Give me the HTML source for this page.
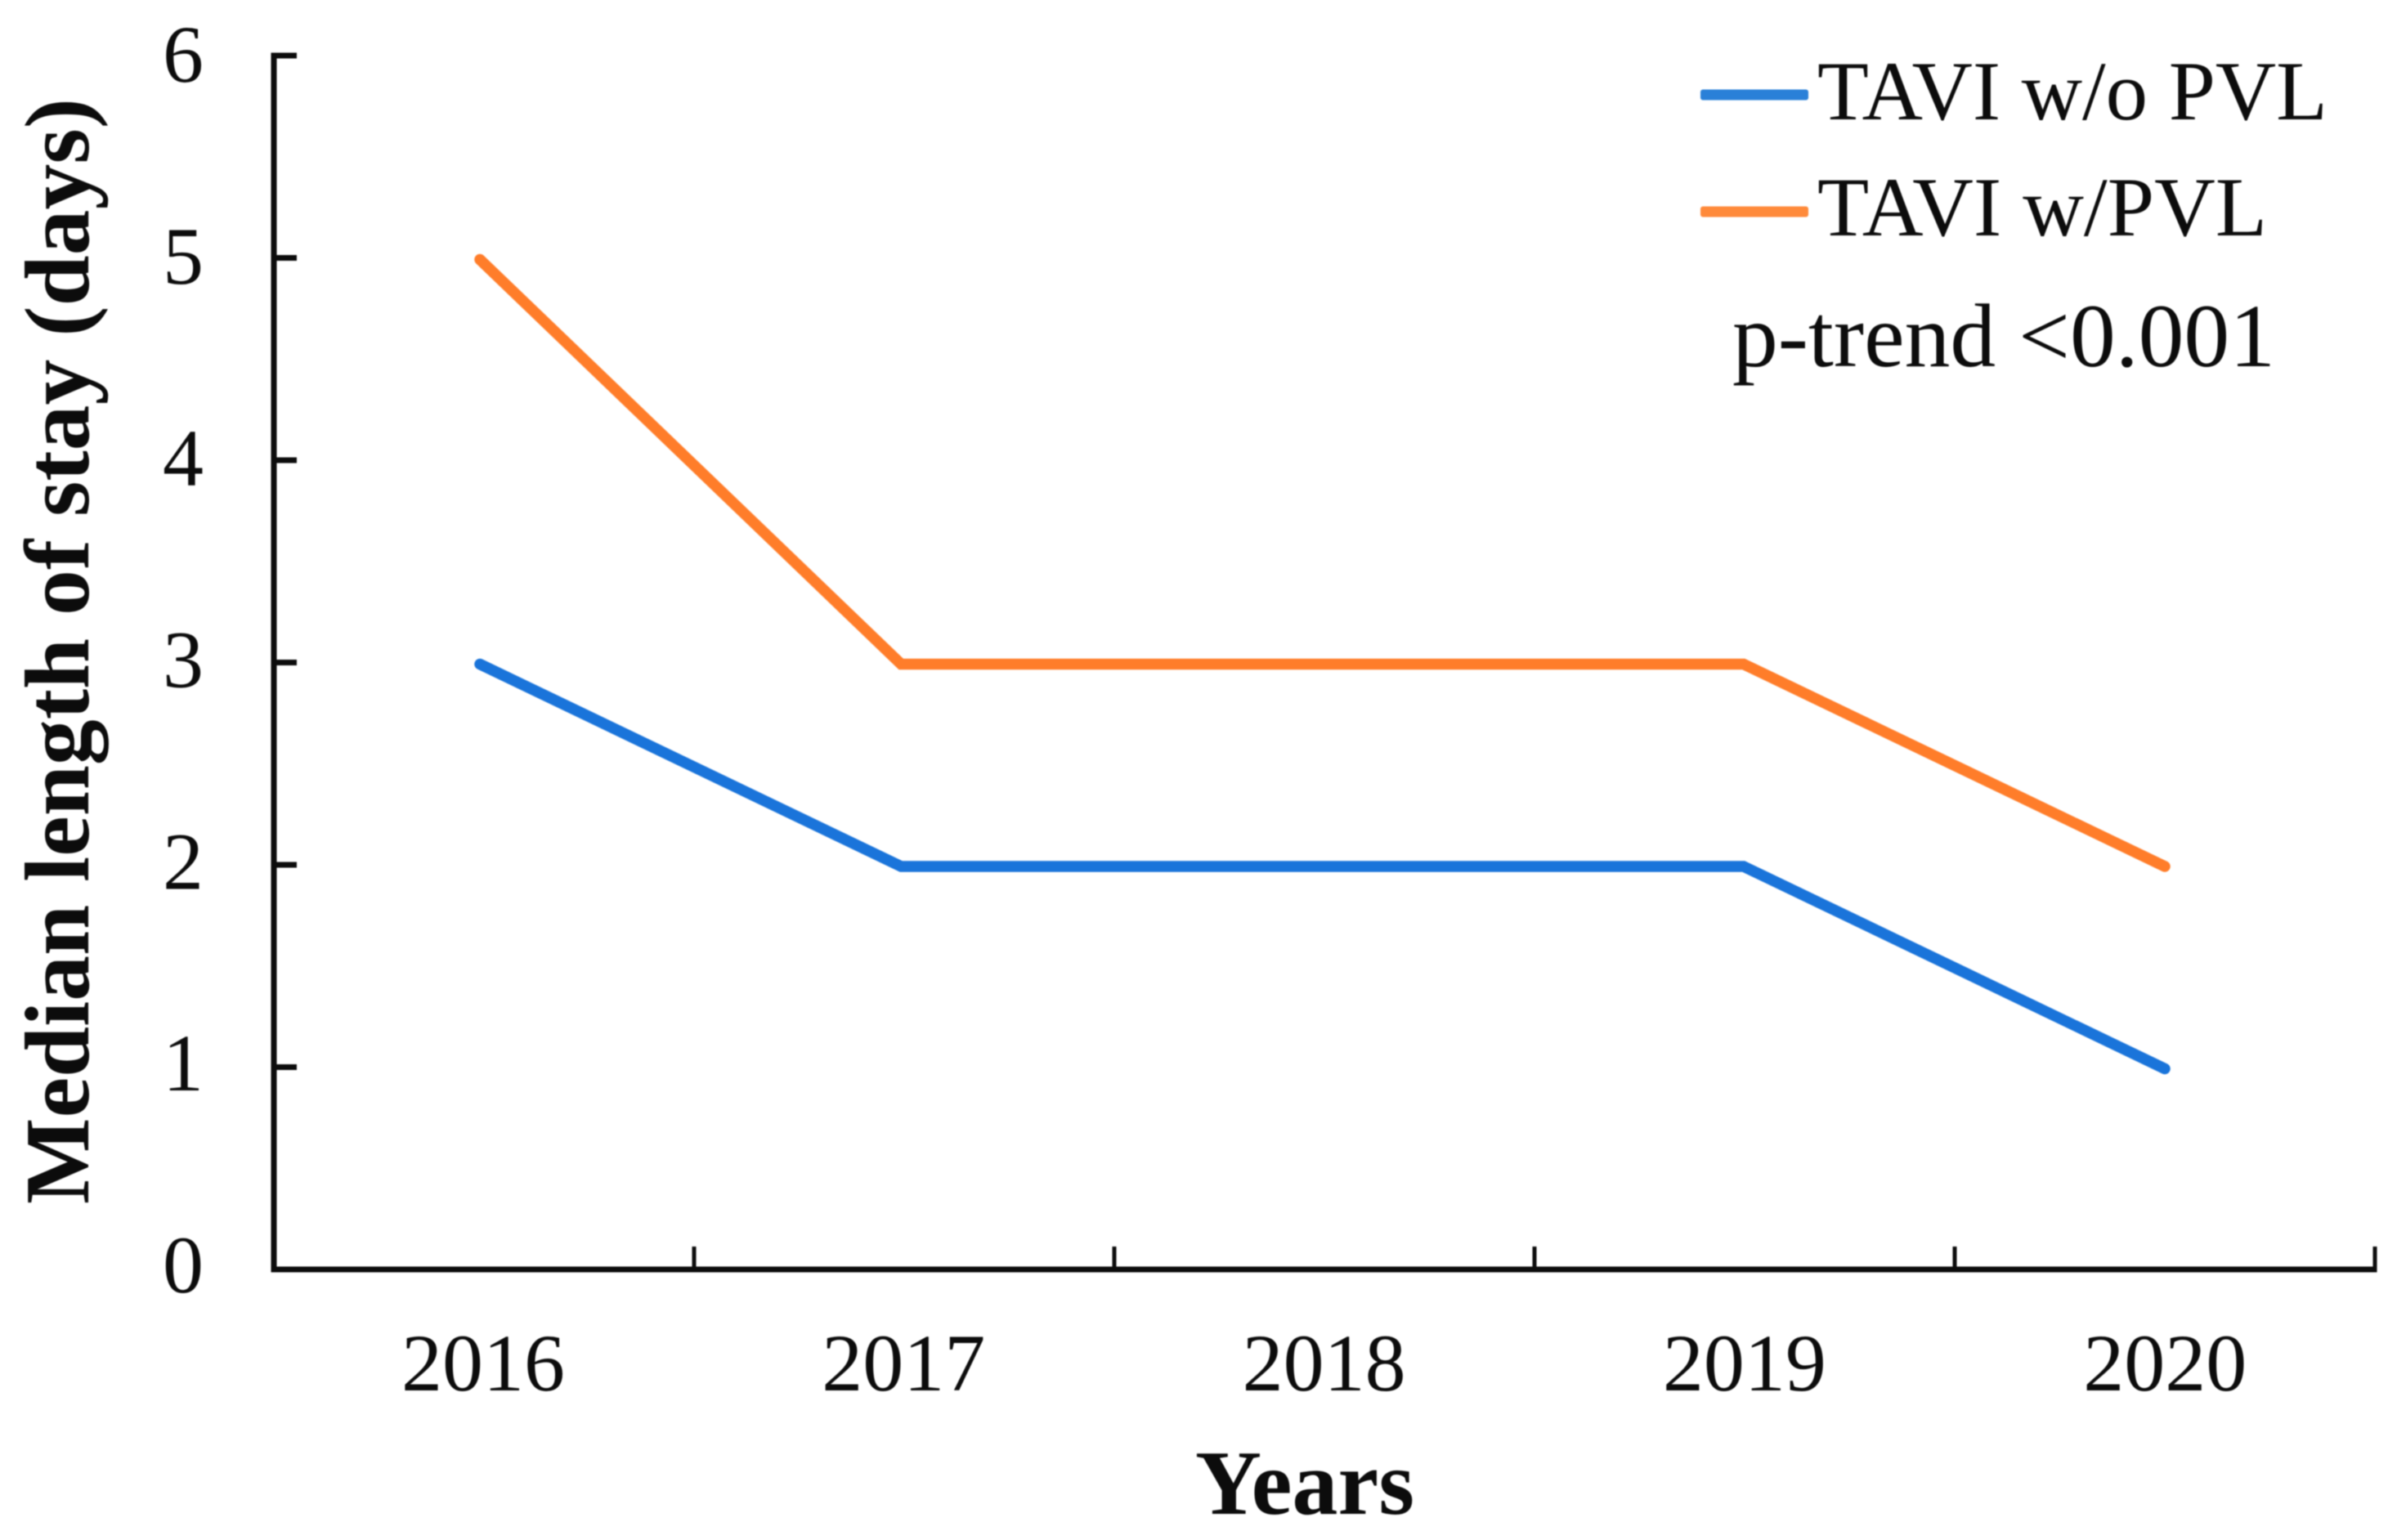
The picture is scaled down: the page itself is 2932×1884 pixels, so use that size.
<!DOCTYPE html>
<html lang="en">
<head>
<meta charset="utf-8">
<title>Median length of stay by year</title>
<style>
  html, body { margin: 0; padding: 0; background: #fff; }
  body { width: 2932px; height: 1884px; overflow: hidden; }
  svg { display: block; filter: blur(0.7px); }
  text { font-family: "Liberation Serif", "Times New Roman", serif; fill: #0c0c0c; }
</style>
</head>
<body>
<svg id="chart" xmlns="http://www.w3.org/2000/svg" width="2932" height="1884" viewBox="0 0 2932 1884">
  <rect x="0" y="0" width="2932" height="1884" fill="#ffffff"/>
  <g id="axes"></g>
  <g id="series"></g>
  <text transform="translate(108,1473) rotate(-90)" font-size="112" font-weight="700" textLength="1353" lengthAdjust="spacingAndGlyphs">Median length of stay (days)</text>
  <text x="1462" y="1852" font-size="112" font-weight="700" textLength="268" lengthAdjust="spacingAndGlyphs">Years</text>
  <g>
    <g>
      <rect x="2080" y="109.5" width="132" height="13" rx="3" fill="#2a80d8"/>
      <text x="2223" y="146" font-size="103" textLength="624" lengthAdjust="spacingAndGlyphs">TAVI w/o PVL</text>
    </g>
    <g>
      <rect x="2080" y="252.5" width="132" height="13" rx="3" fill="#ff8a3a"/>
      <text x="2223" y="288" font-size="103" textLength="550" lengthAdjust="spacingAndGlyphs">TAVI w/PVL</text>
    </g>
    <text x="2119" y="448" font-size="110" textLength="664" lengthAdjust="spacingAndGlyphs">p-trend &lt;0.001</text>
  </g>
</svg>
<script>
const categories = ["2016", "2017", "2018", "2019", "2020"];
const withoutPvl = [3, 2, 2, 2, 1];
const withPvl = [5, 3, 3, 3, 2];
const yTickValues = [0, 1, 2, 3, 4, 5, 6];

const SVG_NS = "http://www.w3.org/2000/svg";
const axesGroup = document.getElementById("axes");
const seriesGroup = document.getElementById("series");

const axisLeft = 335;
const axisBottom = 1553;
const bandWidth = 514;
const unitHeight = 247.5;
const AXIS_COLOR = "#0c0c0c";

function yAxis(value) { return axisBottom - unitHeight * value; }
function xBandEdge(index) { return axisLeft + bandWidth * index; }
function xLabel(index) { return 591 + 514.3 * index; }
function xPoint(index) { return 587 + 515.25 * index; }
function yPoint(value) { return yAxis(value) + 2; }
function yLabel(value) { return 1581 - 246.8 * value; }

function makeLine(x1, y1, x2, y2, width) {
  const el = document.createElementNS(SVG_NS, "line");
  el.setAttribute("x1", x1);
  el.setAttribute("y1", y1);
  el.setAttribute("x2", x2);
  el.setAttribute("y2", y2);
  el.setAttribute("stroke", AXIS_COLOR);
  el.setAttribute("stroke-width", width);
  return el;
}

function makeText(content, x, y) {
  const el = document.createElementNS(SVG_NS, "text");
  el.setAttribute("x", x);
  el.setAttribute("y", y);
  el.setAttribute("font-size", "100");
  el.setAttribute("text-anchor", "middle");
  el.textContent = content;
  return el;
}

function makeSeries(values, color) {
  const el = document.createElementNS(SVG_NS, "polyline");
  const pts = values.map(function (v, i) { return xPoint(i) + "," + yPoint(v); }).join(" ");
  el.setAttribute("points", pts);
  el.setAttribute("fill", "none");
  el.setAttribute("stroke", color);
  el.setAttribute("stroke-width", "13.5");
  el.setAttribute("stroke-linecap", "round");
  el.setAttribute("stroke-linejoin", "miter");
  return el;
}

const yAxisLine = makeLine(axisLeft, yAxis(6) - 3.5, axisLeft, axisBottom + 3.5, 7);


axesGroup.appendChild(yAxisLine);

const xAxisLine = makeLine(axisLeft - 3, axisBottom, xBandEdge(categories.length) + 2.5, axisBottom, 7);


axesGroup.appendChild(xAxisLine);

yTickValues.forEach(function (v) {
  if (v > 0) {
    const tick = makeLine(axisLeft, yAxis(v), axisLeft + 28, yAxis(v), 7);
    
    
    axesGroup.appendChild(tick);
  }
  const label = makeText(String(v), 224, yLabel(v));
  
  
  axesGroup.appendChild(label);
});

categories.forEach(function (c, i) {
  const tick = makeLine(xBandEdge(i + 1), axisBottom, xBandEdge(i + 1), axisBottom - 28, 5);
  
  
  axesGroup.appendChild(tick);
  const label = makeText(c, xLabel(i), 1701);
  
  
  axesGroup.appendChild(label);
});

const blueLine = makeSeries(withoutPvl, "#1a74da");


seriesGroup.appendChild(blueLine);

const orangeLine = makeSeries(withPvl, "#ff7d2a");


seriesGroup.appendChild(orangeLine);
</script>
</body>
</html>
